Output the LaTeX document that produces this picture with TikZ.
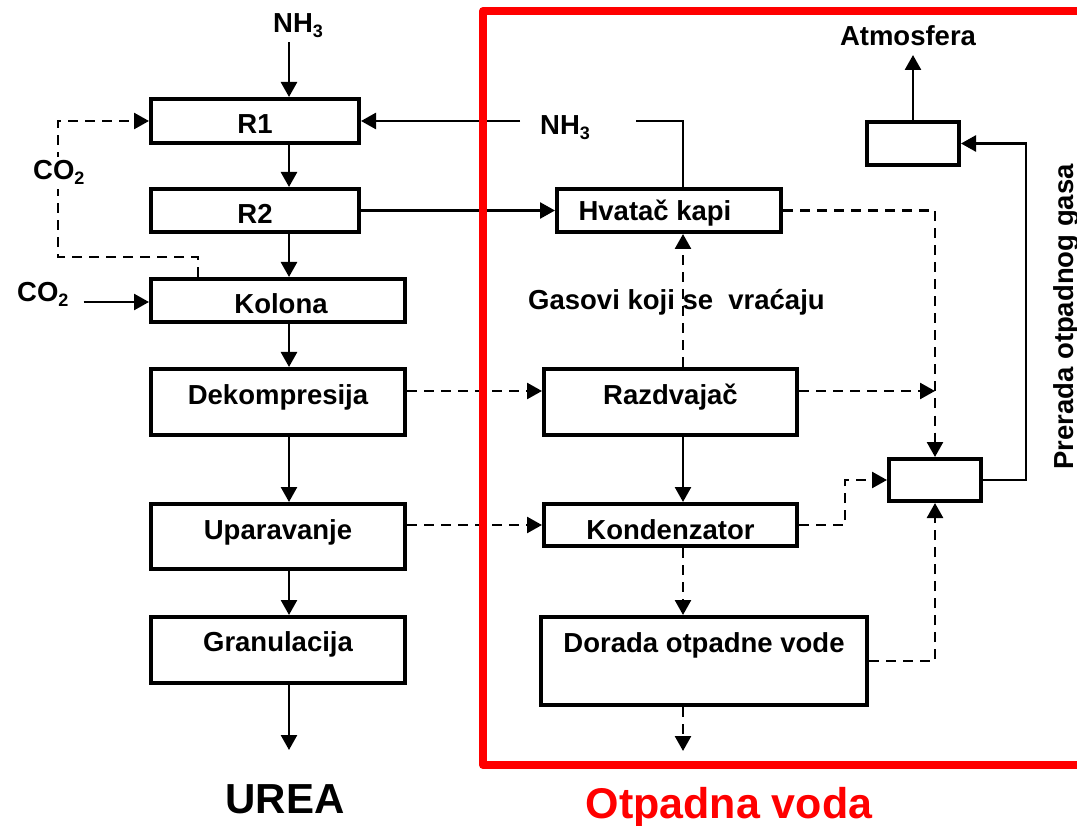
\documentclass[tikz,border=0pt]{standalone}
\usepackage{fontspec}
\setmainfont{Liberation Sans}
\usetikzlibrary{arrows.meta}
% lowered index digit for chemical formulas
\newcommand\lowsub[1]{\raisebox{-5pt}{\fontsize{18}{18}\selectfont #1}}
\begin{document}
\begin{tikzpicture}[x=1pt,y=-1pt,
  every node/.style={font=\fontsize{27.5}{32}\selectfont\bfseries, inner sep=0pt},
  procbox/.style={draw, line width=4pt, inner sep=0pt},
  conn/.style={line width=2.6pt, -{Triangle[length=15pt,width=16pt]}},
  plain/.style={line width=2.6pt},
  dashline/.style={dash pattern=on 10pt off 7pt},
  frame/.style={draw=red, line width=8pt, line join=round},
  biglabel/.style={font=\fontsize{42}{50}\selectfont\bfseries, anchor=base}
]
\useasboundingbox (0,0) rectangle (1077,826);

% guide columns for the vertical flows
\coordinate (colL) at (289,0);
\coordinate (colR) at (683,0);

% ---------- urea synthesis line ----------
\node[procbox, minimum width=208pt, minimum height=44pt] (r1) at (255,121) {};
\node[procbox, minimum width=208pt, minimum height=43pt] (r2) at (255,210.5) {};
\node[procbox, minimum width=254pt, minimum height=43pt] (kolona) at (278,300.5) {};
\node[procbox, minimum width=254pt, minimum height=66pt] (dekomp) at (278,402) {};
\node[procbox, minimum width=254pt, minimum height=65pt] (upar) at (278,536.5) {};
\node[procbox, minimum width=254pt, minimum height=66pt] (granul) at (278,650) {};

\node[anchor=base] (r1t) at ([yshift=-37pt]r1.north) {R1};
\node[anchor=base] (r2t) at ([yshift=-37pt]r2.north) {R2};
\node[anchor=base] (kolonat) at ([xshift=3pt,yshift=-37pt]kolona.north) {Kolona};
\node[anchor=base] (dekompt) at ([yshift=-38pt]dekomp.north) {Dekompresija};
\node[anchor=base] (upart) at ([yshift=-37pt]upar.north) {Uparavanje};
\node[anchor=base] (granult) at ([yshift=-36pt]granul.north) {Granulacija};

% ---------- waste water treatment ----------
\node[procbox, minimum width=224pt, minimum height=43pt] (hvatac) at (669,210.5) {};
\node[procbox, minimum width=253pt, minimum height=66pt] (razdv) at (670.5,402) {};
\node[procbox, minimum width=253pt, minimum height=42pt] (konden) at (670.5,525) {};
\node[procbox, minimum width=326pt, minimum height=88pt] (dorada) at (704,661) {};
\node[procbox, minimum width=92pt, minimum height=43pt] (gasbox) at (913,143.5) {};
\node[procbox, minimum width=92pt, minimum height=42pt] (mixbox) at (935,480) {};

\node[anchor=base] (hvatact) at ([xshift=-14pt,yshift=-34pt]hvatac.north) {Hvatač kapi};
\node[anchor=base] (razdvt) at ([yshift=-38pt]razdv.north) {Razdvajač};
\node[anchor=base] (kondent) at ([yshift=-37pt]konden.north) {Kondenzator};
\node[anchor=base] (doradat) at ([yshift=-37pt]dorada.north) {Dorada otpadne vode};

% ---------- stream labels ----------
\node[anchor=base west] (nh3a) at (273,33) {NH\lowsub{3}};
\node[anchor=base west] (nh3b) at (540,135) {NH\lowsub{3}};
\node[anchor=base west] (co2b) at (17,302) {CO\lowsub{2}};
\node[anchor=base] (atm) at (908,46) {Atmosfera};
\node[anchor=base west] (gasovi) at (528,310) {Gasovi koji se~~vraćaju};
\node[rotate=90, anchor=base] (prerada) at (1073,317) {Prerada otpadnog gasa};
\node[biglabel] (urea) at (285,813) {UREA};
\node[biglabel, text=red, font=\fontsize{43}{50}\selectfont\bfseries] (otpvoda) at (729,818) {Otpadna voda};

% ---------- main flow ----------
\draw[conn, shorten <=4pt] (nh3a.south -| colL) -- (r1.north -| colL);
\draw[conn] (r1.south -| colL) -- (r2.north -| colL);
\draw[conn] (r2.south -| colL) -- (kolona.north -| colL);
\draw[conn] (kolona.south -| colL) -- (dekomp.north -| colL);
\draw[conn] (dekomp.south -| colL) -- (upar.north -| colL);
\draw[conn] (upar.south -| colL) -- (granul.north -| colL);
\draw[conn] (granul.south -| colL) -- ++(0,65);
\draw[conn, shorten <=15pt] (co2b.base east) -- (co2b.base east -| kolona.west);

% CO2 recycled from the column to R1
\coordinate (co2corner) at (58,257);
\draw[conn, dashline] ([xshift=-80pt]kolona.north) |- (co2corner) |- (r1.west);
\node[anchor=base west, fill=white, inner sep=4pt] (co2a) at (29,180) {CO\lowsub{2}};

% gas from R2 to the droplet catcher, ammonia back to R1
\draw[conn] (r2.east) -- (hvatac.west);
\coordinate (nh3gapL) at (520,121);
\coordinate (nh3gapR) at (636,121);
\draw[plain] (hvatac.north -| colR) |- (nh3gapR);
\draw[conn] (nh3gapL) -- (r1.east);

% vapours to the treatment side
\draw[conn, dashline] ([yshift=11pt]dekomp.east) -- ([yshift=11pt]razdv.west);
\draw[conn, dashline] (konden.west -| upar.east) -- (konden.west);
\draw[conn, dashline] (razdv.north -| colR) -- (hvatac.south -| colR);
\draw[conn] (razdv.south -| colR) -- (konden.north -| colR);
\draw[conn, dashline] (konden.south -| colR) -- (dorada.north -| colR);
\draw[conn, dashline] (dorada.south -| colR) -- ++(0,44);

% off-gas collection
\draw[conn, dashline] (hvatac.east) -| (mixbox.north);
\draw[conn, dashline] ([yshift=11pt]razdv.east) -- ([yshift=11pt]razdv.east -| mixbox.north);
\draw[conn, dashline] (konden.east) -- ++(46,0) |- (mixbox.west);
\draw[conn, dashline] (dorada.east) -| (mixbox.south);
\draw[conn] (mixbox.east) -- ++(43,0) |- (gasbox.east);
\draw[conn] (gasbox.north) -- ++(0,-65);

% waste water boundary
\draw[frame] (1100,11) -- (483,11) -- (483,765) -- (1100,765);
\end{tikzpicture}
\end{document}
